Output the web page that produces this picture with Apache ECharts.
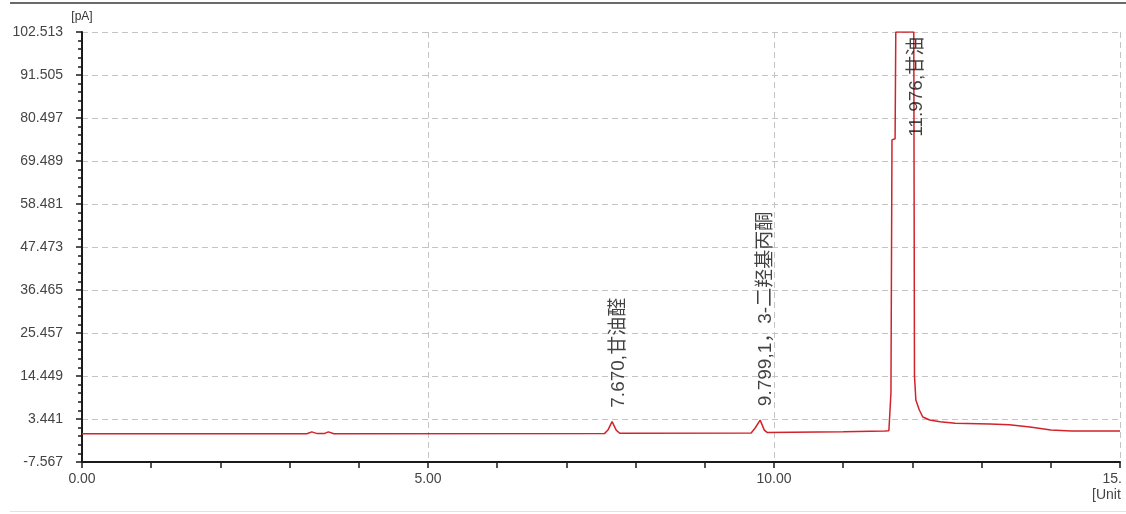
<!DOCTYPE html>
<html>
<head>
<meta charset="utf-8">
<script src="https://cdn.jsdelivr.net/npm/echarts@6/dist/echarts.min.js"></script>
<style>
html,body{margin:0;padding:0;background:#fff;}
#chart{width:1126px;height:514px;}
</style>
</head>
<body>
<div id="chart"></div>
<script>
// ---- data ----
const times = [0.00, 3.25, 3.32, 3.40, 3.50, 3.56, 3.64, 7.55, 7.60, 7.66, 7.72, 7.77,
  9.67, 9.73, 9.80, 9.86, 9.90, 11.00, 11.60, 11.66, 11.69, 11.705, 11.75, 11.76,
  12.02, 12.03, 12.05, 12.10, 12.15, 12.25, 12.40, 12.62, 13.12, 13.40, 13.70, 14.00, 14.30, 15.00];
const signal = [-0.35, -0.35, 0.15, -0.3, -0.3, 0.15, -0.35, -0.3, 0.6, 2.75, 0.6, -0.2,
  -0.15, 1.2, 3.15, 0.6, 0.0, 0.15, 0.35, 0.45, 10.1, 74.9, 75.2, 102.513,
  102.513, 14.5, 8.3, 5.75, 3.95, 3.2, 2.75, 2.35, 2.15, 1.95, 1.4, 0.65, 0.4, 0.4];
const peakTimes = [7.670, 9.799, 11.976];
const peakLabelBase = [2.75, 3.15, 72.1];
const peakLabels = ['7.670,甘油醛', '9.799,1，3-二羟基丙酮', '11.976,甘油'];
const yTickLabels = ['-7.567', '3.441', '14.449', '25.457', '36.465', '47.473',
  '58.481', '69.489', '80.497', '91.505', '102.513'];
const xTickLabels = ['0.00', '5.00', '10.00', '15.00'];
const yMin = -7.567, yMax = 102.513;

// ---- chart ----
const chart = echarts.init(document.getElementById('chart'), null, {renderer: 'canvas'});
const axisColor = '#1a1a1a';
const gridColor = '#c4c4c4';
const labelFont = '"Liberation Sans", Arial, "Noto Sans CJK SC", sans-serif';

chart.setOption({
  animation: false,
  backgroundColor: '#ffffff',
  grid: {left: 82, right: 6, top: 32, bottom: 52, containLabel: false, outerBoundsMode: 'none'},
  xAxis: {
    type: 'value', min: 0, max: 15, interval: 5,
    name: '[Units]', nameLocation: 'end', nameGap: -28,
    nameTextStyle: {align: 'left', verticalAlign: 'top', padding: [26, 0, 0, 0], fontSize: 14, color: '#444', fontFamily: labelFont},
    axisLine: {show: true, lineStyle: {color: axisColor, width: 2}},
    axisTick: {show: true, length: 6, lineStyle: {color: axisColor, width: 1.5}},
    minorTick: {show: true, splitNumber: 5, length: 6, lineStyle: {color: axisColor, width: 1.5}},
    axisLabel: {formatter: v => xTickLabels[Math.round(v / 5)], fontSize: 14, color: '#444', margin: 10, fontFamily: labelFont},
    splitLine: {show: true, lineStyle: {color: gridColor, type: [6, 4], width: 1}}
  },
  yAxis: [
    {
      type: 'value', min: 0, max: 10, interval: 1, position: 'left',
      name: '[pA]', nameLocation: 'end', nameGap: 9,
      nameTextStyle: {fontSize: 12, color: '#333', fontFamily: labelFont},
      axisLine: {show: true, lineStyle: {color: axisColor, width: 2}},
      axisTick: {show: true, length: 6, lineStyle: {color: axisColor, width: 1.5}},
      minorTick: {show: true, splitNumber: 5, length: 4, lineStyle: {color: axisColor, width: 1.5}},
      axisLabel: {formatter: v => yTickLabels[Math.round(v)], fontSize: 14, color: '#444', margin: 19, fontFamily: labelFont},
      splitLine: {show: true, lineStyle: {color: gridColor, type: [6, 4], width: 1}}
    },
    {
      type: 'value', min: yMin, max: yMax, show: false, splitLine: {show: false}
    }
  ],
  graphic: [
    {type: 'rect', shape: {x: 1121, y: 8, width: 5, height: 506}, style: {fill: '#ffffff'}, z: 99},
    {type: 'line', shape: {x1: 10, y1: 3, x2: 1126, y2: 3}, style: {stroke: '#6a6a6a', lineWidth: 2}, z: 100},
    {type: 'line', shape: {x1: 10, y1: 511.5, x2: 1126, y2: 511.5}, style: {stroke: '#e2e2e2', lineWidth: 1}, z: 100}
  ],
  series: [
    {
      type: 'line', yAxisIndex: 1, showSymbol: false, symbol: 'none',
      data: times.map((t, i) => [t, signal[i]]),
      lineStyle: {color: '#d2222a', width: 1.5},
      clip: true, z: 5
    },
    {
      type: 'scatter', yAxisIndex: 1, symbolSize: 0, silent: true,
      data: peakTimes.map((t, i) => [t, peakLabelBase[i]]),
      label: {
        show: true, position: 'top', distance: 14, rotate: 90,
        align: 'left', verticalAlign: 'middle', offset: [0, 6],
        formatter: p => peakLabels[p.dataIndex],
        fontSize: 19, color: '#111', fontFamily: labelFont
      },
      z: 10
    }
  ]
});
</script>
</body>
</html>
